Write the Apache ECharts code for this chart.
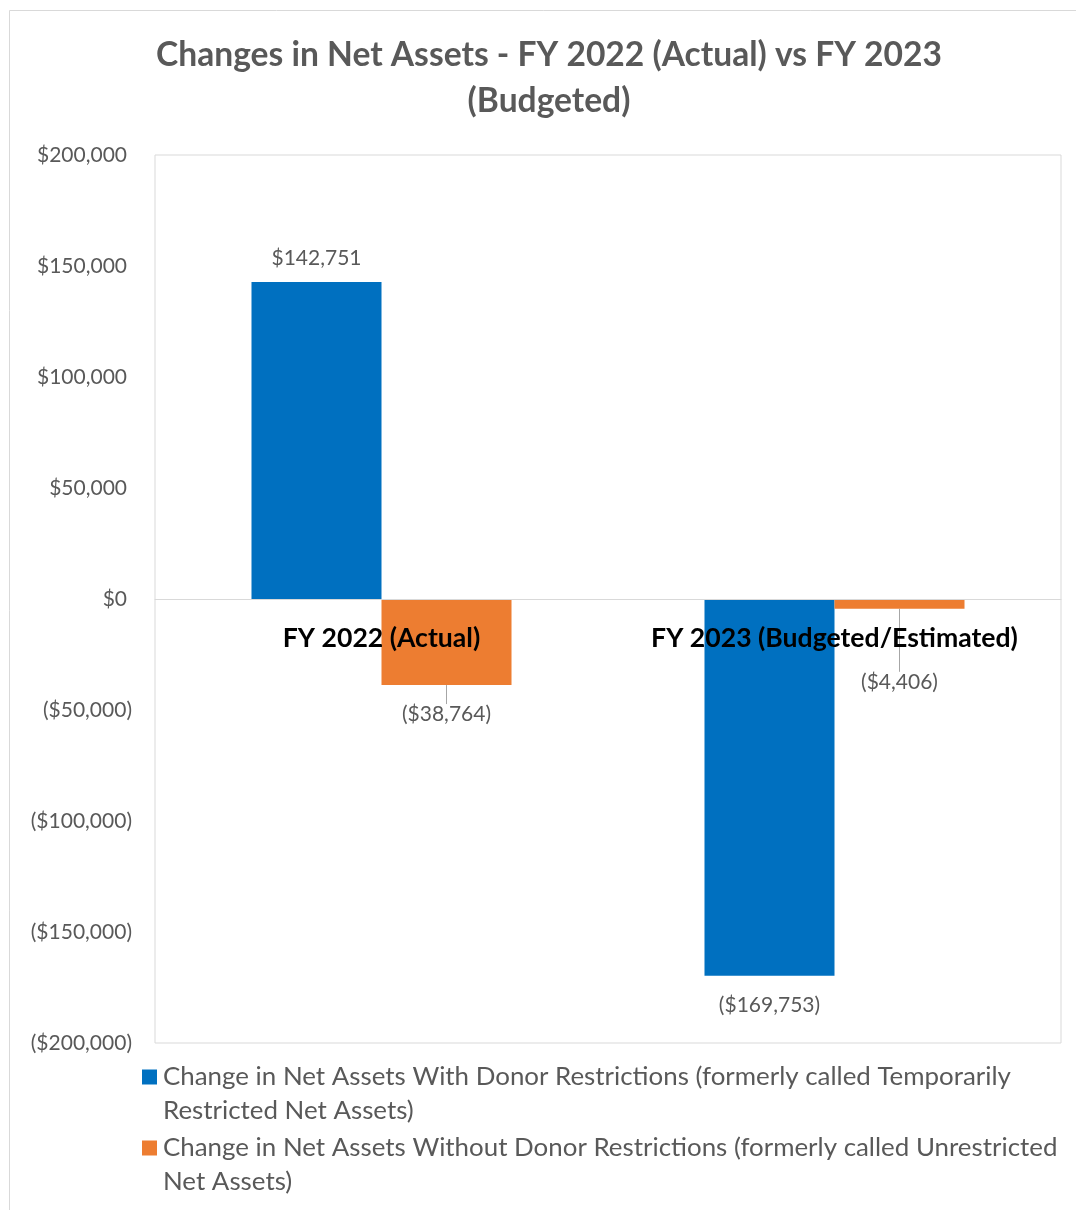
<!DOCTYPE html>
<html>
<head>
<meta charset="utf-8">
<script src="https://cdn.jsdelivr.net/npm/echarts@6/dist/echarts.min.js"></script>
<style>
  html, body { margin: 0; padding: 0; background: #fff; }
  #main { width: 1076px; height: 1210px; }
</style>
</head>
<body>
<div id="main"></div>
<script>
const chart = echarts.init(document.getElementById('main'))

const categories = ['FY 2022 (Actual)', 'FY 2023 (Budgeted/Estimated)']
const withDonor = [142751, -169753]
const withoutDonor = [-38764, -4406]
const seriesNames = [
  'Change in Net Assets With Donor Restrictions (formerly called Temporarily Restricted Net Assets)',
  'Change in Net Assets Without Donor Restrictions (formerly called Unrestricted Net Assets)'
]
// wrapped the way the original legend wraps
const legendLines = {
  [seriesNames[0]]: 'Change in Net Assets With Donor Restrictions (formerly called Temporarily\nRestricted Net Assets)',
  [seriesNames[1]]: 'Change in Net Assets Without Donor Restrictions (formerly called Unrestricted\nNet Assets)'
}

const font = 'Lato'
const grey = '#595959'

function money(v) {
  let s = '$' + Math.abs(v).toLocaleString('en-US')
  return v < 0 ? '(' + s + ')' : s
}

function makeData(values) {
  return values.map(v => ({
    value: v,
    label: { position: v < 0 ? 'bottom' : 'top', distance: v < 0 ? 19 : 13 }
  }))
}

let labelStyle = {
  show: true,
  color: grey,
  fontFamily: font,
  fontSize: 21,
  formatter: p => money(p.value)
}

let option = {
  backgroundColor: '#fff',
  title: {
    text: 'Changes in Net Assets - FY 2022 (Actual) vs FY 2023\n(Budgeted)',
    left: 549,
    top: 32,
    padding: 0,
    textAlign: 'center',
    textStyle: {
      color: grey,
      fontFamily: font,
      fontWeight: 'bold',
      fontSize: 33.6,
      lineHeight: 46
    }
  },
  legend: {
    orient: 'vertical',
    left: 142,
    top: 1026,
    height: 300,
    padding: 0,
    itemWidth: 15,
    itemHeight: 15,
    itemGap: -31,
    icon: 'rect',
    // leading blank line keeps the marker level with the first text line
    formatter: name => '\n' + legendLines[name],
    textStyle: {
      color: grey,
      fontFamily: font,
      fontSize: 25.9,
      lineHeight: 34,
      padding: [0, 0, 0, 1]
    },
    data: seriesNames
  },
  grid: {
    left: 155,
    right: 15,
    top: 155,
    bottom: 167,
    show: true,
    borderColor: '#d9d9d9',
    borderWidth: 1
  },
  xAxis: {
    type: 'category',
    data: categories,
    position: 'bottom',
    offset: -444,
    z: 10,
    axisLine: { onZero: false, lineStyle: { color: '#d9d9d9', width: 1 } },
    axisTick: { show: false },
    axisLabel: {
      interval: 0,
      hideOverlap: false,
      color: '#000',
      fontFamily: font,
      fontWeight: 'bold',
      fontSize: 26.6,
      margin: 26
    },
    splitLine: { show: false }
  },
  yAxis: {
    type: 'value',
    min: -200000,
    max: 200000,
    interval: 50000,
    splitLine: { show: false },
    axisLine: { show: false },
    axisTick: { show: false },
    axisLabel: {
      margin: 23,
      fontFamily: font,
      fontSize: 21,
      color: grey,
      formatter: v => v < 0 ? money(v) : '{p|' + money(v) + '}',
      rich: {
        p: { fontFamily: font, fontSize: 21, color: grey, padding: [0, 5, 0, 0] }
      }
    }
  },
  graphic: [{
    type: 'rect',
    shape: { x: 9.5, y: 10.5, width: 1100, height: 1250 },
    style: { fill: null, stroke: '#d9d9d9', lineWidth: 1 },
    silent: true
  }],
  series: [{
    name: seriesNames[0],
    type: 'bar',
    data: makeData(withDonor),
    barGap: '0%',
    barCategoryGap: '42.6%',
    itemStyle: { color: '#0070C0' },
    label: labelStyle
  }, {
    name: seriesNames[1],
    type: 'bar',
    data: makeData(withoutDonor),
    barGap: '0%',
    barCategoryGap: '42.6%',
    itemStyle: { color: '#ED7D31' },
    label: labelStyle,
    labelLine: { show: true, lineStyle: { color: '#a6a6a6', width: 1 } },
    labelLayout: p => p.dataIndex === 1 ? { dy: 44 } : {}
  }]
}

chart.setOption(option)
</script>
</body>
</html>
